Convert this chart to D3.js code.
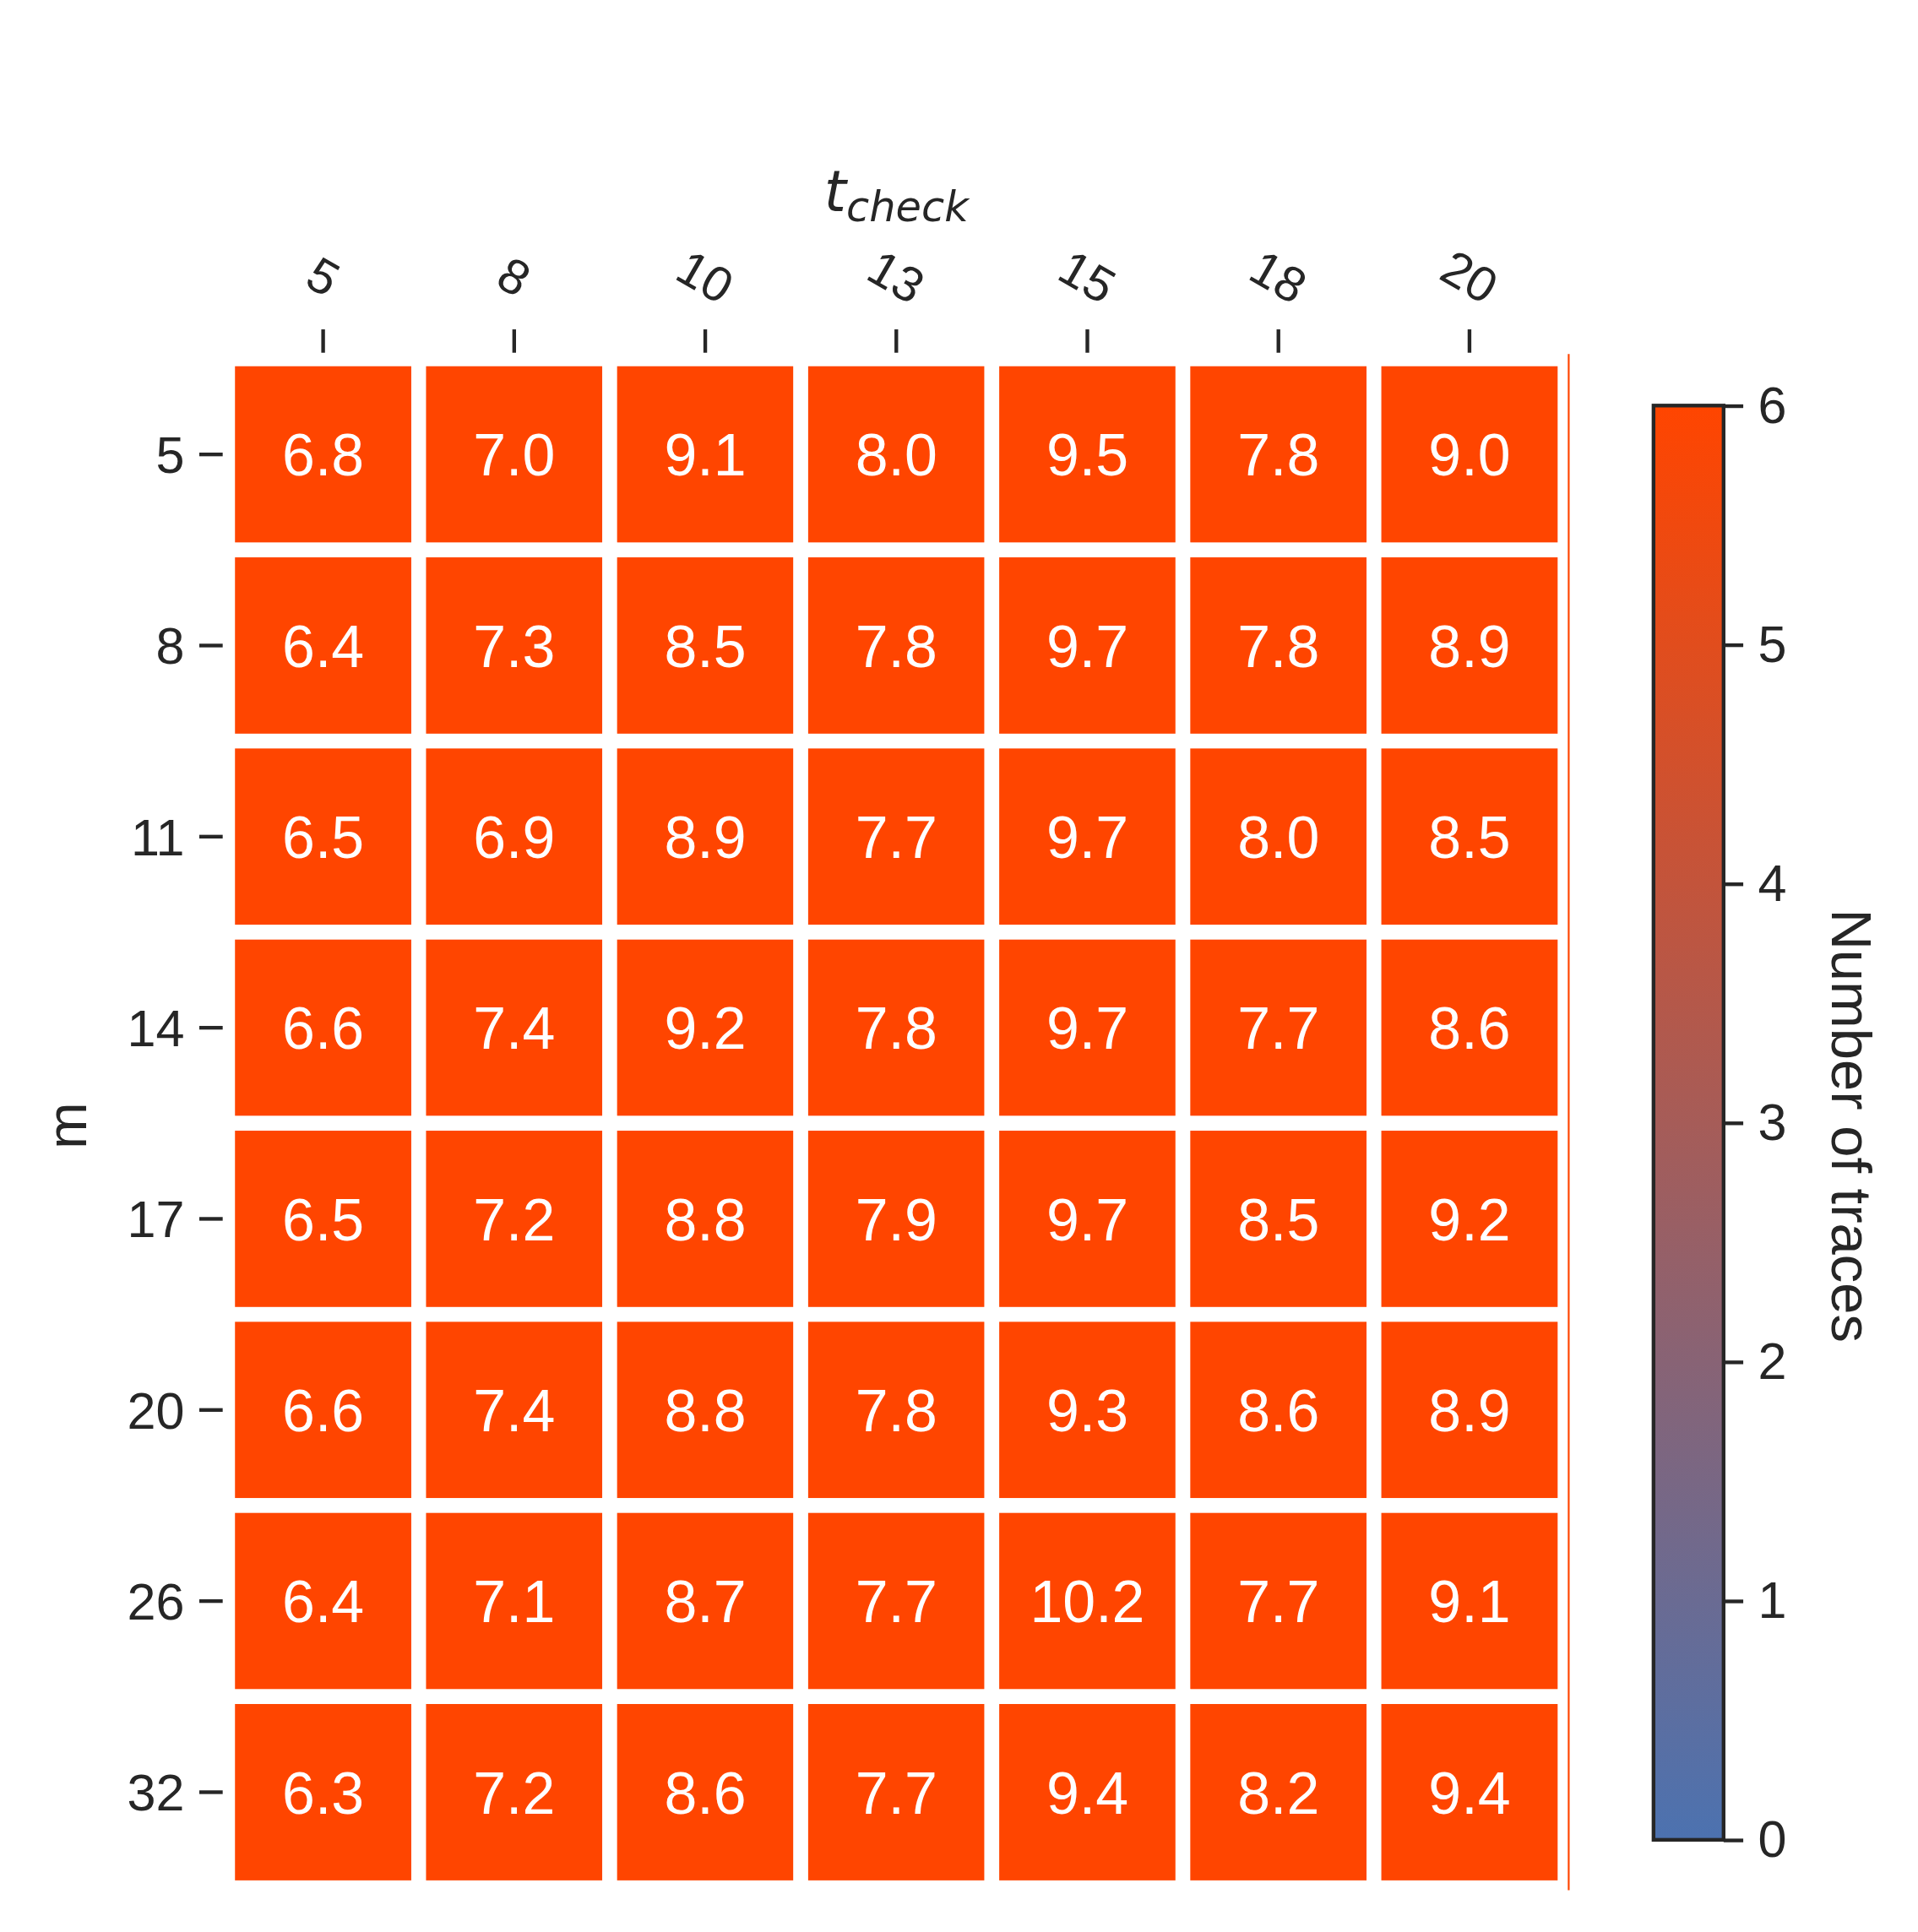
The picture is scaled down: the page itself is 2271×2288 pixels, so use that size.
<!DOCTYPE html>
<html><head><meta charset="utf-8">
<script src="https://cdn.jsdelivr.net/npm/d3@7"></script>
<style>body{margin:0;background:#fff}</style>
</head><body>
<script>
var tcheck = ["5", "8", "10", "13", "15", "18", "20"];
var mVals = ["5", "8", "11", "14", "17", "20", "26", "32"];
var values = [
  [6.8, 7.0, 9.1, 8.0, 9.5, 7.8, 9.0],
  [6.4, 7.3, 8.5, 7.8, 9.7, 7.8, 8.9],
  [6.5, 6.9, 8.9, 7.7, 9.7, 8.0, 8.5],
  [6.6, 7.4, 9.2, 7.8, 9.7, 7.7, 8.6],
  [6.5, 7.2, 8.8, 7.9, 9.7, 8.5, 9.2],
  [6.6, 7.4, 8.8, 7.8, 9.3, 8.6, 8.9],
  [6.4, 7.1, 8.7, 7.7, 10.2, 7.7, 9.1],
  [6.3, 7.2, 8.6, 7.7, 9.4, 8.2, 9.4]
];
var cbTicks = [0, 1, 2, 3, 4, 5, 6];

var W = 1560, H = 1572;
var svg = d3.select("body").append("svg")
  .attr("width", 2271).attr("height", 2288)
  .attr("viewBox", "0 0 " + W + " " + H)
  .style("font-family", "Arial, 'Liberation Sans', sans-serif");

var color = d3.scaleLinear().domain([0, 6]).range(["#4c72b0", "#ff4500"]).clamp(true);
var x = d3.scaleBand().domain(tcheck).range([185, 1273]);
var y = d3.scaleBand().domain(mVals).range([292, 1536]);

var g = svg.append("g");
values.forEach(function (row, i) {
  row.forEach(function (v, j) {
    g.append("rect")
      .attr("x", x(tcheck[j])).attr("y", y(mVals[i]))
      .attr("width", x.bandwidth()).attr("height", y.bandwidth())
      .attr("fill", color(v)).attr("stroke", "#fff").attr("stroke-width", 12);
    g.append("text")
      .attr("x", x(tcheck[j]) + x.bandwidth() / 2)
      .attr("y", y(mVals[i]) + y.bandwidth() / 2)
      .attr("dy", "0.36em").attr("text-anchor", "middle")
      .attr("fill", "#fff").attr("font-size", 48)
      .text(v.toFixed(1));
  });
});
svg.append("line").attr("x1", 1276).attr("x2", 1276).attr("y1", 288).attr("y2", 1538)
  .attr("stroke", "#ff4500").attr("stroke-width", 1.5);

// top axis
var xa = svg.append("g");
tcheck.forEach(function (t) {
  var cx = x(t) + x.bandwidth() / 2;
  xa.append("line").attr("x1", cx).attr("x2", cx).attr("y1", 268).attr("y2", 287)
    .attr("stroke", "#262626").attr("stroke-width", 3);
  xa.append("text").attr("transform", "translate(" + cx + ",225) rotate(30)")
    .attr("text-anchor", "middle").attr("dy", "0.35em")
    .attr("font-size", 40).attr("fill", "#262626").text(t);
});
var tt = svg.append("text").attr("x", 729).attr("y", 172).attr("text-anchor", "middle")
  .attr("font-size", 46).attr("fill", "#262626").style("font-family", "'DejaVu Sans', sans-serif");
tt.append("tspan").attr("font-style", "italic").text("t");
tt.append("tspan").attr("font-style", "italic").attr("font-size", 34).attr("dy", 8).text("check");

// left axis
var ya = svg.append("g");
mVals.forEach(function (m) {
  var cy = y(m) + y.bandwidth() / 2;
  ya.append("line").attr("x1", 162).attr("x2", 181).attr("y1", cy).attr("y2", cy)
    .attr("stroke", "#262626").attr("stroke-width", 3);
  ya.append("text").attr("x", 150).attr("y", cy).attr("dy", "0.36em").attr("text-anchor", "end")
    .attr("font-size", 42).attr("fill", "#262626").text(m);
});
svg.append("text").attr("transform", "translate(70,916) rotate(-90)")
  .attr("text-anchor", "middle").attr("font-size", 46).attr("fill", "#262626").text("m");

// colorbar
var defs = svg.append("defs");
var grad = defs.append("linearGradient").attr("id", "cb").attr("x1", 0).attr("x2", 0).attr("y1", 1).attr("y2", 0);
cbTicks.forEach(function (t) {
  grad.append("stop").attr("offset", t / 6).attr("stop-color", color(t));
});
var cy = d3.scaleLinear().domain([0, 6]).range([1497, 330]);
svg.append("rect").attr("x", 1345).attr("y", 330).attr("width", 57).attr("height", 1167)
  .attr("fill", "url(#cb)").attr("stroke", "#262626").attr("stroke-width", 3);
var ca = svg.append("g").attr("transform", "translate(1402,0)")
  .call(d3.axisRight(cy).tickValues(cbTicks).tickSize(16).tickPadding(12).tickFormat(d3.format("d")));
ca.select(".domain").remove();
ca.selectAll("line").attr("stroke", "#262626").attr("stroke-width", 3);
ca.selectAll("text").attr("font-size", 42).attr("fill", "#262626").style("font-family", "Arial, 'Liberation Sans', sans-serif");
svg.append("text").attr("transform", "translate(1490,916) rotate(90)")
  .attr("text-anchor", "middle").attr("font-size", 46).attr("fill", "#262626").text("Number of traces");
</script>
</body></html>
